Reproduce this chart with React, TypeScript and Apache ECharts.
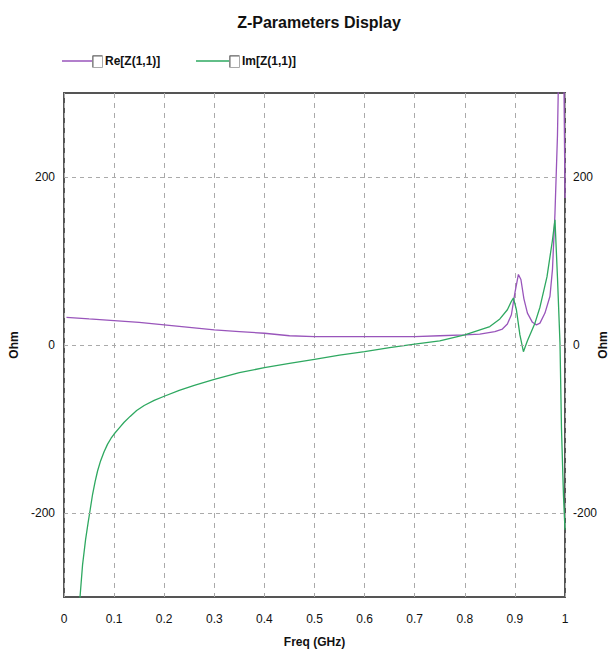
import React, { useEffect, useRef } from "react";
import * as echarts from "echarts";

const title = "Z-Parameters Display";
const seriesNames = ["Re[Z(1,1)]", "Im[Z(1,1)]"];
const yName = "Ohm";
const xTicks = [0, 0.1, 0.2, 0.3, 0.4, 0.5, 0.6, 0.7, 0.8, 0.9, 1];
const yGridValues = [-200, 0, 200];

const reFreq = [0.005, 0.05, 0.1, 0.15, 0.2, 0.25, 0.3, 0.35, 0.4, 0.45, 0.5, 0.55, 0.6, 0.65, 0.7, 0.75, 0.8, 0.83, 0.86, 0.875, 0.885, 0.893, 0.9, 0.907, 0.912, 0.918, 0.925, 0.935, 0.943, 0.95, 0.96, 0.97, 0.975, 0.98, 0.985, 0.99, 0.995, 1.0];
const reVal = [33, 31, 29, 27, 24, 21, 18, 16, 14, 11, 10, 10, 10, 10, 10, 11, 12, 13, 16, 19, 25, 36, 62, 84, 78, 55, 38, 27, 24, 26, 38, 58, 90, 157, 250, 420, 500, 175];

const imFreq = [0.025, 0.032, 0.037, 0.043, 0.048, 0.052, 0.057, 0.062, 0.067, 0.073, 0.08, 0.087, 0.094, 0.1, 0.11, 0.12, 0.132, 0.145, 0.16, 0.18, 0.2, 0.23, 0.26, 0.3, 0.35, 0.4, 0.45, 0.5, 0.55, 0.6, 0.65, 0.7, 0.75, 0.8, 0.85, 0.87, 0.885, 0.893, 0.897, 0.903, 0.91, 0.917, 0.925, 0.94, 0.95, 0.964, 0.975, 0.98, 0.985, 0.99, 0.993, 0.997, 1.0];
const imVal = [-400, -300, -262, -232, -212, -197, -178, -163, -150, -138, -127, -118, -111, -106, -99, -92, -85, -78, -72, -66, -61, -54, -48, -41, -33, -27, -22, -17, -12, -8, -3, 1, 5, 12, 22, 31, 42, 52, 56, 42, 12, -8, 5, 26, 45, 81, 125, 149, 80, 2, -100, -180, -220];

const PURPLE = "#9955bb";
const GREEN = "#2ea860";
const FONT = "'Liberation Sans Narrow', 'Arial Narrow', 'Liberation Sans', Arial, sans-serif";

export default function App() {
  const ref = useRef<HTMLDivElement>(null);
  useEffect(() => {
    if (!ref.current) return;
    const chart = echarts.init(ref.current, null, { renderer: "svg" });
    const reData = reFreq.map((f, i) => [f, reVal[i]]);
    const imData = imFreq.map((f, i) => [f, imVal[i]]);
    const yLabelFmt = (v: number) => (yGridValues.includes(v) ? String(v) : "");
    const legendItem = (x: number, color: string, text: string, lineLen: number) => [
      { type: "line", shape: { x1: x, y1: 61, x2: x + lineLen, y2: 61 }, style: { stroke: color, lineWidth: 1.5 } },
      { type: "rect", shape: { x: x + lineLen + 0.5, y: 55.5, width: 10, height: 12 }, style: { fill: "#fff", stroke: "#aaa", lineWidth: 1 } },
      { type: "line", shape: { x1: x + lineLen + 1, y1: 56, x2: x + lineLen + 10, y2: 56 }, style: { stroke: "#666", lineWidth: 1 } },
      { type: "line", shape: { x1: x + lineLen + 1, y1: 56, x2: x + lineLen + 1, y2: 67 }, style: { stroke: "#666", lineWidth: 1 } },
      { type: "text", x: x + lineLen + 13, y: 61, style: { text, fill: "#111", font: `bold 12px ${FONT}`, verticalAlign: "middle", align: "left" } },
    ];
    chart.setOption({
      animation: false,
      backgroundColor: "#fff",
      title: {
        text: title,
        left: 314,
        top: 9,
        textAlign: "center",
        textStyle: { fontFamily: FONT, fontSize: 16, fontWeight: "bold", color: "#111" },
      },
      grid: { left: 64, right: 48, top: 93, bottom: 56, show: true, borderColor: "#555", borderWidth: 2, backgroundColor: "transparent", outerBoundsMode: "none", containLabel: false },
      xAxis: {
        type: "value",
        min: 0,
        max: 1,
        interval: 0.1,
        name: "Freq (GHz)",
        nameLocation: "middle",
        nameGap: 39,
        nameTextStyle: { fontFamily: FONT, fontSize: 12, fontWeight: "bold", color: "#111" },
        axisLine: { show: false },
        axisTick: { show: false },
        axisLabel: { fontFamily: FONT, fontSize: 12, color: "#111", margin: 16, formatter: (v: number) => String(Math.round(v * 10) / 10) },
        splitLine: { show: true, lineStyle: { color: "#aaa", type: [5, 5], width: 1 } },
      },
      yAxis: [
        {
          type: "value",
          min: -300,
          max: 300,
          interval: 100,
          name: yName,
          nameLocation: "middle",
          nameGap: 40,
          nameTextStyle: { fontFamily: FONT, fontSize: 12, fontWeight: "bold", color: "#111" },
          axisLine: { show: false },
          axisTick: { show: false },
          axisLabel: { fontFamily: FONT, fontSize: 12, color: "#111", margin: 9, formatter: yLabelFmt },
          splitLine: { show: false },
        },
        {
          type: "value",
          min: -300,
          max: 300,
          interval: 100,
          position: "right",
          axisLine: { show: false },
          axisTick: { show: false },
          axisLabel: { fontFamily: FONT, fontSize: 12, color: "#111", margin: 8, formatter: yLabelFmt },
          splitLine: { show: false },
        },
      ],
      graphic: [
        ...legendItem(62, PURPLE, seriesNames[0], 30),
        ...legendItem(196, GREEN, seriesNames[1], 33),
        {
          type: "text",
          x: 603,
          y: 345,
          rotation: Math.PI / 2,
          style: { text: yName, fill: "#111", font: `bold 12px ${FONT}`, align: "center", verticalAlign: "middle" },
        },
      ],
      series: [
        {
          name: "grid",
          type: "line",
          data: [],
          silent: true,
          markLine: {
            silent: true,
            symbol: "none",
            label: { show: false },
            lineStyle: { color: "#aaa", type: [4, 4], width: 1 },
            data: yGridValues.map((v) => ({ yAxis: v })),
          },
        },
        {
          name: seriesNames[0],
          type: "line",
          data: reData,
          showSymbol: false,
          clip: true,
          lineStyle: { color: PURPLE, width: 1.3 },
          itemStyle: { color: PURPLE },
        },
        {
          name: seriesNames[1],
          type: "line",
          data: imData,
          showSymbol: false,
          clip: true,
          lineStyle: { color: GREEN, width: 1.3 },
          itemStyle: { color: GREEN },
        },
      ],
    });
    return () => chart.dispose();
  }, []);
  return <div ref={ref} style={{ position: "fixed", left: 0, top: 0, width: 613, height: 653 }} />;
}
